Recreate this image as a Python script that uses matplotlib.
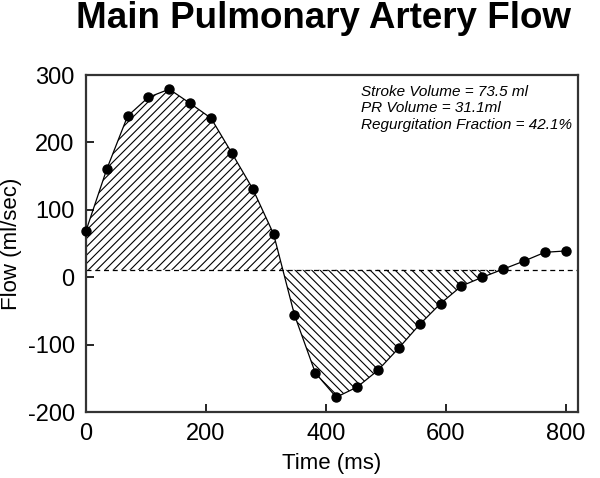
import numpy as np
import matplotlib
matplotlib.use("Agg")
import matplotlib.pyplot as plt

plt.rcParams['font.family'] = ['Liberation Sans', 'DejaVu Sans']
plt.rcParams['hatch.linewidth'] = 0.8
plt.rcParams['axes.unicode_minus'] = False

time_ms = [0, 34.8, 69.6, 104.3, 139.1, 173.9, 208.7, 243.5, 278.3, 313.0,
           347.8, 382.6, 417.4, 452.2, 487.0, 521.7, 556.5, 591.3, 626.1,
           660.9, 695.7, 730.4, 765.2, 800.0]
flow = [68, 160, 239, 267, 279, 258, 236, 184, 131, 64,
        -56, -142, -178, -163, -138, -105, -70, -39, -13,
        0, 12, 24, 37, 39]
baseline = 11
annot = ["Stroke Volume = 73.5 ml", "PR Volume = 31.1ml",
         "Regurgitation Fraction = 42.1%"]

t = np.array(time_ms)
f = np.array(flow)

fig = plt.figure(figsize=(6, 4.78), dpi=100)
ax = fig.add_axes([0.143, 0.138, 0.82, 0.705])

# hatched fills between curve and baseline
tt = np.linspace(t[0], t[-1], 2000)
ff = np.interp(tt, t, f)
mask_pos = (ff >= baseline) & (tt < 500)
ax.fill_between(tt, ff, baseline, where=mask_pos, interpolate=True,
                facecolor='none', edgecolor='black', hatch='////', linewidth=0)
mask_neg = (ff < baseline) & (tt < 700)
ax.fill_between(tt, ff, baseline, where=mask_neg, interpolate=True,
                facecolor='none', edgecolor='black', hatch='\\\\\\\\', linewidth=0)

ax.axhline(baseline, color='black', linestyle=(0, (4, 3)), linewidth=0.9)
ax.plot(t, f, color='black', linewidth=0.9, marker='o', markersize=6.5,
        markerfacecolor='black', markeredgecolor='black', clip_on=False, zorder=5)

ax.set_xlim(0, 820)
ax.set_ylim(-200, 300)
ax.set_xticks([0, 200, 400, 600, 800])
ax.set_yticks([-200, -100, 0, 100, 200, 300])
ax.tick_params(direction='in', length=6, width=1.2, labelsize=17, pad=8,
               top=False, right=False)
for s in ax.spines.values():
    s.set_linewidth(1.6)
    s.set_color('#333333')

ax.set_xlabel('Time (ms)', fontsize=16, labelpad=6)
ax.set_ylabel('Flow (ml/sec)', fontsize=16)
ax.yaxis.set_label_coords(-0.13, 0.5)
fig.suptitle('Main Pulmonary Artery Flow', fontsize=26.5, fontweight='bold',
             x=0.54, y=0.998, va='top')

ax.text(0.56, 0.97, "\n".join(annot), transform=ax.transAxes, fontsize=11,
        style='italic', va='top', ha='left', linespacing=1.2)

fig.savefig('out.png', dpi=100)
